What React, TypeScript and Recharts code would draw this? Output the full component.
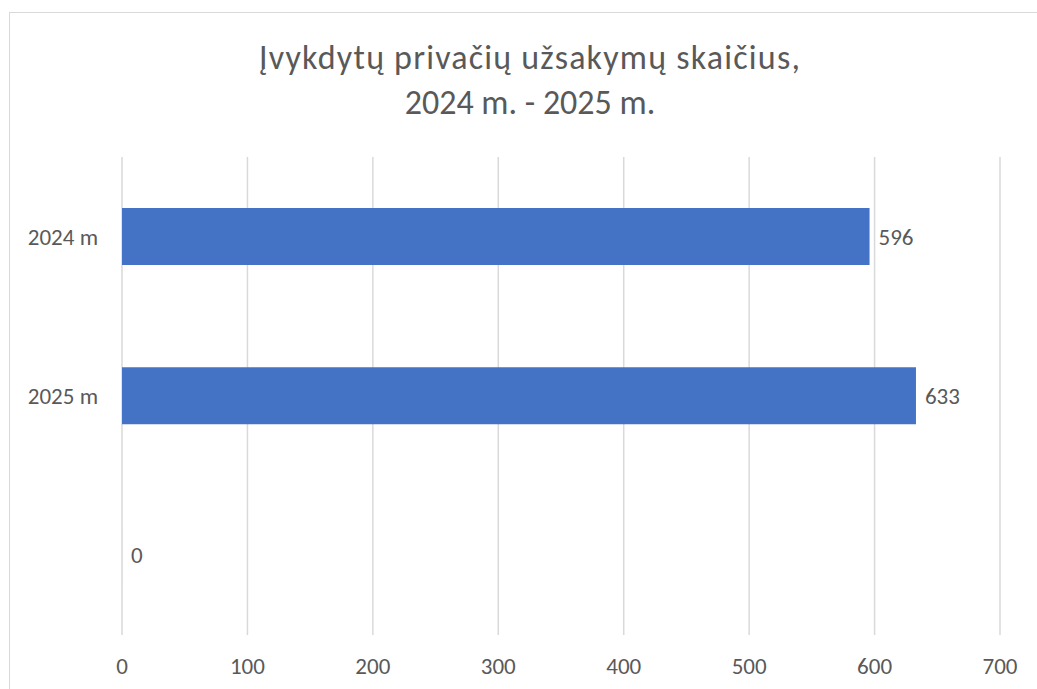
import React from 'react';
import { BarChart, Bar, XAxis, YAxis, CartesianGrid, LabelList } from 'recharts';

const categories = ['2024 m', '2025 m', ''];
const orders = [596, 633, 0];
const xTicks = [0, 100, 200, 300, 400, 500, 600, 700];
const titleLines = ['Įvykdytų privačių užsakymų skaičius,', '2024 m. - 2025 m.'];

const FONT = 'Calibri, Carlito, Lato, sans-serif';
const TEXT = '#595959';

export default function App() {
  const data = categories.map((name, i) => ({ name, value: orders[i] }));

  return (
    <div style={{ position: 'fixed', left: 0, top: 0, width: 1037, height: 689, overflow: 'hidden', background: '#fff', fontFamily: FONT }}>
      {/* chart frame, runs off the right and bottom edge */}
      <div style={{ position: 'absolute', left: 9, top: 12, width: 1100, height: 800, border: '1.5px solid #d9d9d9' }} />
      <svg width={1037} height={140} style={{ position: 'absolute', left: 0, top: 0 }}>
        {titleLines.map((line, i) => (
          <text
            key={i}
            x={530}
            y={69 + i * 45}
            textAnchor="middle"
            fontSize={34}
            fill={TEXT}
            fontFamily={FONT}
            letterSpacing={i === 0 ? 1.2 : 0}
          >
            {line}
          </text>
        ))}
      </svg>
      <div style={{ position: 'absolute', left: 0, top: 0 }}>
        <BarChart
          width={1037}
          height={689}
          data={data}
          layout="vertical"
          margin={{ top: 157, right: 37, left: 0, bottom: 0 }}
          barCategoryGap="32%"
        >
          <CartesianGrid horizontal={false} stroke="#d9d9d9" strokeWidth={1.5} />
          <XAxis
            type="number"
            domain={[0, 700]}
            ticks={xTicks}
            height={54}
            axisLine={false}
            tickLine={false}
            tickMargin={17}
            tick={{ fontSize: 23, fill: TEXT, fontFamily: FONT }}
          />
          <YAxis
            type="category"
            dataKey="name"
            width={122}
            axisLine={false}
            tickLine={false}
            tickMargin={18}
            tick={{ fontSize: 23, fill: TEXT, fontFamily: FONT }}
          />
          {/* tiny min size so the zero bar still gets its "0" label */}
          <Bar dataKey="value" fill="#4472c4" minPointSize={0.01} isAnimationActive={false}>
            <LabelList dataKey="value" position="right" offset={9} fill={TEXT} fontSize={23} fontFamily={FONT} />
          </Bar>
        </BarChart>
      </div>
    </div>
  );
}
